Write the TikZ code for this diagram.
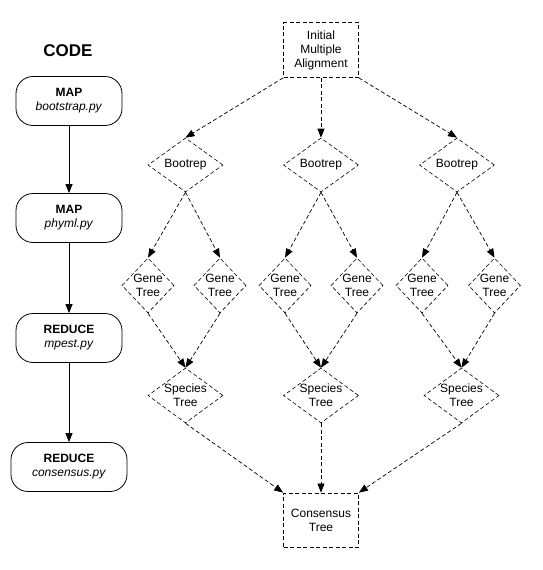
\documentclass[tikz,border=0pt]{standalone}
\usepackage{fontspec}
\setmainfont{Liberation Sans}
\usetikzlibrary{shapes.geometric,arrows.meta}
\begin{document}
\begin{tikzpicture}[x=1pt,y=-1pt,
  txt/.style={font=\fontsize{12}{14}\selectfont, align=center},
  codebox/.style={draw, line width=0.8pt, rounded corners=17pt, minimum width=106pt, minimum height=49pt, txt},
  dbox/.style={draw, dashed, line width=0.8pt, dash pattern=on 4pt off 2.5pt, minimum width=75pt, minimum height=55pt, inner sep=0pt, txt},
  diam/.style={draw, diamond, dashed, line width=0.6pt, dash pattern=on 4pt off 2.5pt, inner sep=-2pt, txt},
  boot/.style={diam, minimum width=75pt, minimum height=54pt, aspect=1.39},
  gene/.style={diam, minimum width=52pt, minimum height=55pt, aspect=0.95},
  spec/.style={diam, minimum width=75pt, minimum height=55pt, aspect=1.36},
  solidarr/.style={-{Triangle[length=9pt,width=7pt]}, line width=0.8pt},
  dasharr/.style={-{Triangle[length=9pt,width=7pt]}, line width=0.7pt, dash pattern=on 4pt off 2.5pt},
]
\useasboundingbox (0,0) rectangle (543,570);

% left column
\node[font=\fontsize{17}{20}\selectfont\bfseries] (code) at (68,51) {CODE};
\node[codebox] (c1) at (69,101) {\textbf{MAP}\\\textit{bootstrap.py}};
\node[codebox] (c2) at (69,218) {\textbf{MAP}\\\textit{phyml.py}};
\node[codebox] (c3) at (69,338) {\textbf{REDUCE}\\\textit{mpest.py}};
\node[codebox, minimum width=116pt] (c4) at (69,467) {\textbf{REDUCE}\\\textit{consensus.py}};
\draw[solidarr] (c1) -- (c2);
\draw[solidarr] (c2) -- (c3);
\draw[solidarr] (c3) -- (c4);

% right part
\node[dbox, minimum height=55pt] (init) at (321,50) {Initial\\Multiple\\Alignment};
\node[dbox, minimum height=54pt] (cons) at (321,520) {Consensus\\Tree};

\node[boot] (b1) at (185.5,165) {Bootrep};
\node[boot] (b2) at (321,165) {Bootrep};
\node[boot] (b3) at (457,165) {Bootrep};

\node[gene] (g1) at (148,285.5) {Gene\\Tree};
\node[gene] (g2) at (220,285.5) {Gene\\Tree};
\node[gene] (g3) at (285,285.5) {Gene\\Tree};
\node[gene] (g4) at (357,285.5) {Gene\\Tree};
\node[gene] (g5) at (422,285.5) {Gene\\Tree};
\node[gene] (g6) at (494.5,285.5) {Gene\\Tree};

\node[spec] (s1) at (185.5,395.5) {Species\\Tree};
\node[spec] (s2) at (321,395.5) {Species\\Tree};
\node[spec] (s3) at (461.5,395.5) {Species\\Tree};

\draw[dasharr] (init.south west) -- (b1.north);
\draw[dasharr] (init.south) -- (b2.north);
\draw[dasharr] (init.south east) -- (b3.north);

\draw[dasharr] (b1.south) -- (g1.north);
\draw[dasharr] (b1.south) -- (g2.north);
\draw[dasharr] (b2.south) -- (g3.north);
\draw[dasharr] (b2.south) -- (g4.north);
\draw[dasharr] (b3.south) -- (g5.north);
\draw[dasharr] (b3.south) -- (g6.north);

\draw[dasharr] (g1.south) -- (s1.north);
\draw[dasharr] (g2.south) -- (s1.north);
\draw[dasharr] (g3.south) -- (s2.north);
\draw[dasharr] (g4.south) -- (s2.north);
\draw[dasharr] (g5.south) -- (s3.north);
\draw[dasharr] (g6.south) -- (s3.north);

\draw[dasharr] (s1.south) -- (cons.north west);
\draw[dasharr] (s2.south) -- (cons.north);
\draw[dasharr] (s3.south) -- (cons.north east);
\end{tikzpicture}
\end{document}
